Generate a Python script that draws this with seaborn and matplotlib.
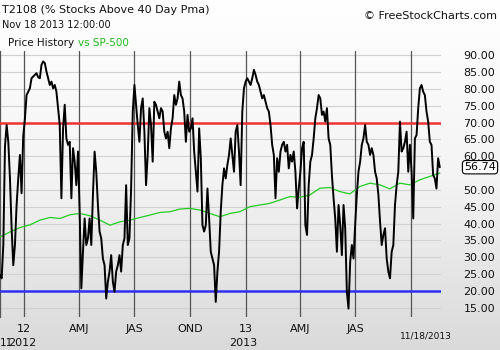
import numpy as np
import pandas as pd
import matplotlib
matplotlib.use("Agg")
import matplotlib.pyplot as plt
import seaborn as sns
from matplotlib.transforms import blended_transform_factory
from matplotlib.colors import LinearSegmentedColormap

# ---------------- data ----------------
title = "T2108 (% Stocks Above 40 Day Pma)"
timestamp = "Nov 18 2013 12:00:00"
series_start = "2011-11-22"
series_end = "2013-11-18"

t2108 = [
    24.7, 23.7, 33.6, 63.0, 69.3, 64.3, 53.4, 38.6, 27.6, 33.6, 45.5, 53.4, 60.4, 49.0, 66.0, 71.0,
    78.2, 79.2, 80.2, 83.2, 83.7, 84.2, 84.7, 83.5, 83.2, 87.2, 88.2, 87.7, 85.2, 83.2, 81.2, 82.2,
    80.2, 81.2, 79.2, 74.3, 69.3, 47.5, 68.3, 75.3, 65.3, 63.4, 64.3, 47.5, 62.4, 58.4, 51.4, 61.4,
    43.5, 20.7, 31.6, 41.5, 33.6,
    35.6, 41.5, 33.6, 48.5, 61.4, 55.4, 45.5, 37.6, 35.6, 29.6, 27.6, 17.7, 22.7, 25.7, 30.6, 22.7,
    19.7, 25.7, 27.6, 30.6, 25.7, 33.6, 35.6, 51.4, 33.6, 35.6, 50.4, 73.3, 81.2, 75.3, 69.3, 64.3,
    74.3, 77.2, 67.3, 51.4, 60.4, 74.3, 69.3, 58.4, 76.2, 75.3, 73.3, 71.3, 74.3, 73.3, 67.3, 65.3,
    67.3, 62.4, 68.3, 71.3, 78.2,
    75.3, 77.2, 82.2, 78.2, 77.2, 73.3, 64.3, 72.3, 67.3, 68.3, 71.3, 61.4, 55.4, 49.5, 68.3, 59.4,
    39.5, 37.6, 39.5, 50.4, 41.5, 31.6, 29.6, 27.6, 16.7, 25.7, 31.6, 43.5, 51.4, 56.4, 53.4, 57.4,
    60.4, 65.3, 60.4, 55.4, 67.3, 69.3, 61.4, 51.4, 73.3, 80.2, 82.2, 83.2, 82.2, 81.2, 83.2, 85.7,
    84.2, 82.2, 81.2, 79.2, 77.2,
    78.2, 76.2, 74.3, 73.3, 69.3, 63.4, 60.4, 47.5, 59.4, 55.4, 61.4, 63.4, 64.3, 61.4, 63.4, 56.4,
    60.4, 58.4, 61.4, 55.4, 44.5, 50.4, 55.4, 62.4, 64.3, 39.5, 36.6, 51.4, 58.4, 60.4, 65.3, 71.3,
    74.3, 78.2, 77.2, 72.3, 73.3, 70.3, 74.3, 65.3, 63.4, 54.4, 47.5, 41.5, 31.6, 45.5, 39.5, 30.6,
    45.5, 38.6, 19.7, 14.7, 28.6,
    33.6, 29.6, 39.5, 48.5, 55.4, 58.4, 63.4, 65.3, 69.3, 64.3, 63.4, 60.4, 62.4, 60.4, 55.4, 53.4,
    48.5, 40.6, 33.6, 36.6, 38.6, 29.6, 25.7, 23.7, 31.6, 33.6, 45.5, 51.4, 55.4, 70.3, 61.4, 62.4,
    64.3, 67.3, 55.4, 63.4, 55.4, 41.5, 65.3, 66.3, 74.3, 80.2, 81.2, 79.2, 78.2, 73.3, 70.3, 64.3,
    63.4, 54.4, 53.4, 50.4, 59.4, 56.74,
]

sp500_scaled = [
    36.0, 37.5, 38.8, 39.6, 41.0, 41.8, 41.5, 42.6, 43.0, 42.3, 41.0, 39.5, 40.5, 41.0, 41.8, 42.5,
    43.3, 43.5, 44.3, 44.5, 44.0, 43.0, 42.0, 43.0, 43.5, 45.0, 45.5, 46.0, 47.0, 48.0, 47.8, 48.5,
    50.5, 50.7, 49.5, 48.8, 51.0, 52.0, 51.5, 50.3, 52.0, 51.5, 53.0, 54.0, 55.0,
]

upper_level = 70
lower_level = 20
y_ticks = list(range(15, 95, 5))
y_tick_labels = ["" if v == 55 else f"{v:.2f}" for v in y_ticks]
quarter_dates = ["2012-01-01", "2012-04-01", "2012-07-01", "2012-10-01",
                 "2013-01-01", "2013-04-01", "2013-07-01", "2013-10-01"]
quarter_labels = ["12", "AMJ", "JAS", "OND", "13", "AMJ", "JAS", ""]
end_label = "11/18/2013"

df_t = pd.DataFrame({"date": pd.date_range(series_start, series_end, periods=len(t2108)),
                     "value": t2108})
df_s = pd.DataFrame({"date": pd.date_range(series_start, series_end, periods=len(sp500_scaled)),
                     "value": sp500_scaled})

# ---------------- style ----------------
sns.set_theme(style="white")
plt.rcParams["font.family"] = ["DejaVu Sans"]

W, H = 500, 350
fig = plt.figure(figsize=(W / 100, H / 100), dpi=100)

# background gradient
bg = fig.add_axes([0, 0, 1, 1], zorder=-10)
cmap = LinearSegmentedColormap.from_list("bg", ["#ffffff", "#f4f4f4", "#dadada"])
bg.imshow(np.linspace(0, 1, 256).reshape(-1, 1), aspect="auto", cmap=cmap,
          extent=[0, 1, 0, 1])
bg.set_axis_off()

left, right, top, bottom = 0, 441, 51, 317
ax = fig.add_axes([left / W, 1 - bottom / H, (right - left) / W, (bottom - top) / H])
ax.set_facecolor("none")

# horizontal grid
for v in y_ticks:
    ax.axhline(v, color="#d2d2d2", lw=0.8, zorder=1)
# quarter lines
for d in quarter_dates:
    ax.axvline(pd.Timestamp(d), color="#555555", lw=0.9, zorder=2)

ax.axhline(upper_level, color="#f03434", lw=1.8, zorder=3)
ax.axhline(lower_level, color="#3030ee", lw=1.8, zorder=3)

sns.lineplot(data=df_s, x="date", y="value", ax=ax, color="#22cc22", lw=0.9, zorder=4)
sns.lineplot(data=df_t, x="date", y="value", ax=ax, color="black", lw=1.4, zorder=5)

ax.set_xlim(pd.Timestamp("2011-11-22"), pd.Timestamp("2013-11-20"))
ax.set_ylim(12.2, 91.3)
ax.set_xlabel("")
ax.set_ylabel("")

for s in ["top", "right", "bottom"]:
    ax.spines[s].set_visible(False)
ax.spines["left"].set_color("#555555")
ax.spines["left"].set_linewidth(0.9)

ax.yaxis.tick_right()
ax.set_yticks(y_ticks)
ax.set_yticklabels(y_tick_labels)
ax.tick_params(axis="y", length=0, pad=38.9, labelsize=8, labelcolor="#111111")
for lbl in ax.get_yticklabels():
    lbl.set_horizontalalignment("right")

ax.set_xticks([pd.Timestamp(d) for d in quarter_dates])
ax.set_xticklabels(quarter_labels)
ax.tick_params(axis="x", length=0, pad=5, labelsize=8, labelcolor="#111111")

# last value box
last_value = t2108[-1]
tr = blended_transform_factory(ax.transAxes, ax.transData)
ax.text((480 - left) / (right - left), last_value, f"{last_value:.2f}", transform=tr,
        ha="center", va="center", fontsize=8, color="black", zorder=10,
        bbox=dict(boxstyle="round,pad=0.15,rounding_size=0.3", fc="white", ec="black", lw=0.8))

# header texts
fig.text(2 / W, 1 - 10 / H, title, fontsize=8, va="center", ha="left", color="#111111")
fig.text(2 / W, 1 - 25 / H, timestamp, fontsize=7, va="center", ha="left", color="#111111")
t1 = fig.text(8 / W, 1 - 43 / H, "Price History", fontsize=7.5, va="center", ha="left",
              color="#111111")
ax.annotate("vs SP-500", xy=(1, 0), xycoords=t1, xytext=(2.5, 0), textcoords="offset points",
            fontsize=7.5, va="bottom", ha="left", color="#22bb22", annotation_clip=False)
fig.text(497 / W, 1 - 16 / H, "© FreeStockCharts.com", fontsize=8, va="center", ha="right",
         color="#111111")

# bottom year labels
fig.text(0 / W, 1 - 343 / H, "11", fontsize=7.5, va="center", ha="left", color="#111111")
fig.text(8 / W, 1 - 343 / H, "2012", fontsize=8, va="center", ha="left", color="#111111")
fig.text(243 / W, 1 - 343 / H, "2013", fontsize=8, va="center", ha="center", color="#111111")
fig.text(426 / W, 1 - 336 / H, end_label, fontsize=6.5, va="center", ha="center", color="#111111")

fig.savefig("out.png", dpi=100)
